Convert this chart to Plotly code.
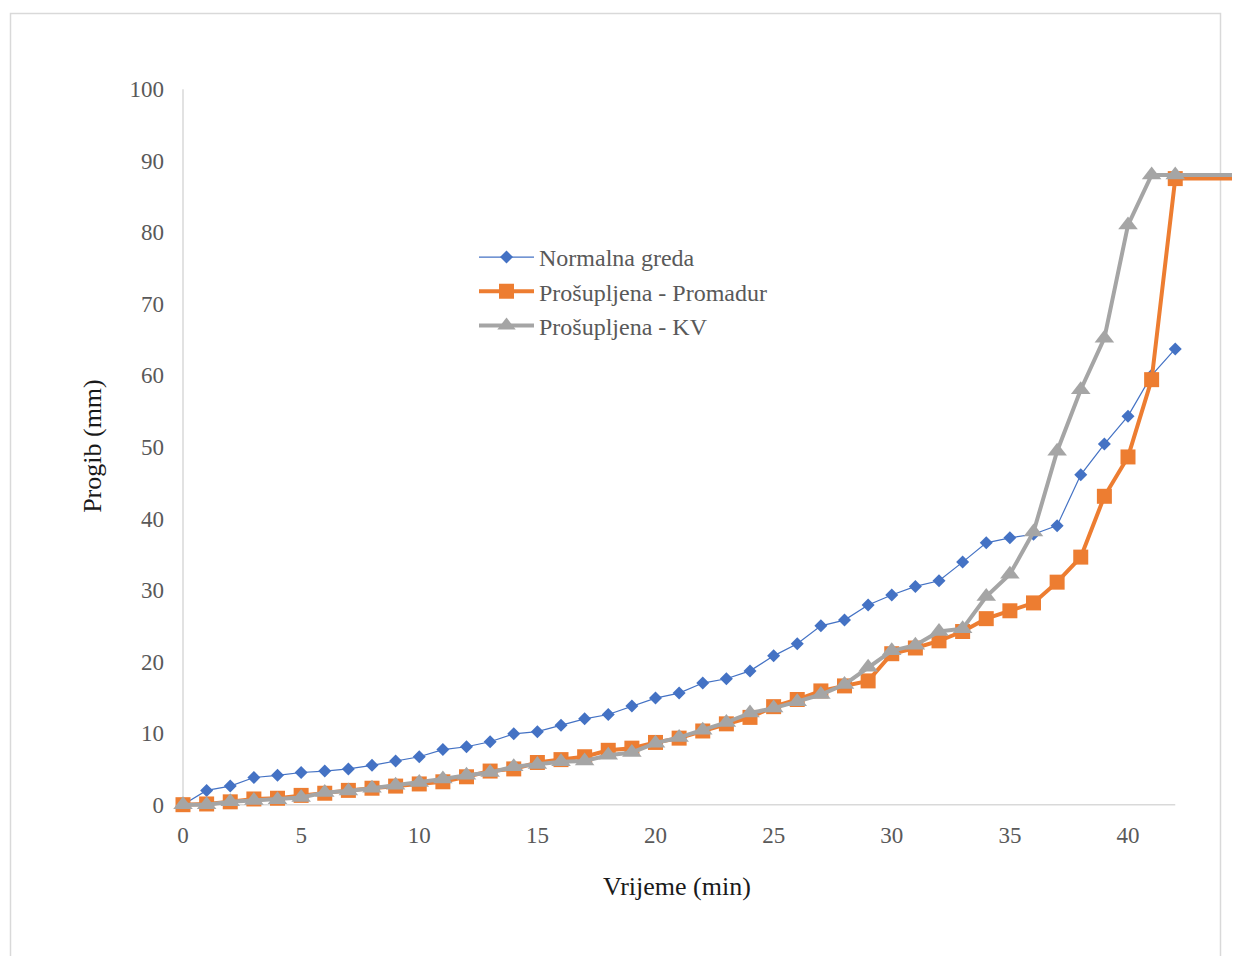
import plotly.graph_objects as go

# ---- data ----
time_min = list(range(43))
normalna_greda = [0, 2.0, 2.6, 3.8, 4.1, 4.5, 4.7, 5.0, 5.5, 6.1, 6.7, 7.7, 8.1, 8.8, 9.9, 10.2,
                  11.1, 12.0, 12.6, 13.8, 14.9, 15.6, 17.0, 17.6, 18.7, 20.8, 22.5, 25.0, 25.8,
                  27.9, 29.3, 30.5, 31.3, 33.9, 36.6, 37.3, 37.8, 39.0, 46.1, 50.4, 54.3, 60.0, 63.7]
promadur = [0, 0.1, 0.4, 0.8, 0.9, 1.3, 1.6, 2.0, 2.3, 2.6, 2.9, 3.2, 3.9, 4.7, 5.0, 5.9, 6.3,
            6.7, 7.6, 7.9, 8.7, 9.3, 10.3, 11.3, 12.2, 13.7, 14.7, 15.9, 16.6, 17.3, 21.1, 21.9,
            22.9, 24.2, 26.0, 27.1, 28.2, 31.1, 34.6, 43.1, 48.6, 59.4, 87.5]
kv = [0, 0, 0.4, 0.6, 0.7, 1.0, 1.7, 1.9, 2.3, 2.7, 3.1, 3.6, 4.1, 4.5, 5.3, 5.6, 6.0, 6.1,
      6.9, 7.3, 8.6, 9.4, 10.4, 11.5, 12.8, 13.5, 14.4, 15.4, 16.8, 19.2, 21.5, 22.3, 24.2,
      24.6, 29.1, 32.2, 38.1, 49.4, 58.0, 65.2, 81.0, 88.0, 88.0]
# plateau continues past the visible axis end
plateau_time = 48
x_ticks = [0, 5, 10, 15, 20, 25, 30, 35, 40]
y_ticks = [0, 10, 20, 30, 40, 50, 60, 70, 80, 90, 100]

# ---- layout geometry (page pixels; page body has an 8px margin) ----
OFF = 8
W, H = 1240 - OFF, 956 - OFF
PL = 171            # plot-area left edge in page px
PR = 1240           # plot-area right edge in page px
PT = 82             # plot-area top in page px
PB = 819.3          # plot-area bottom in page px
L = PL - OFF
R = (OFF + W) - PR
T = PT - OFF
B = (OFF + H) - PB
px_per_x = 23.625
x0 = (PL - 183) / px_per_x
x1 = x0 + (PR - PL) / px_per_x
y0, y1 = -2, 101

def paper_x(px):
    return (px - PL) / (PR - PL)

def paper_y(py):
    return (PB - py) / (PB - PT)

SERIF = "Liberation Serif, Times New Roman, serif"
BLUE, ORANGE, GRAY = "#4472C4", "#ED7D31", "#A5A5A5"
AXIS = "#D9D9D9"

fig = go.Figure()

fig.add_trace(go.Scatter(
    x=time_min, y=normalna_greda, name="Normalna greda", mode="lines+markers",
    line=dict(color=BLUE, width=1.2),
    marker=dict(symbol="diamond", size=10, color=BLUE),
    cliponaxis=False))

fig.add_trace(go.Scatter(
    x=[time_min[-1], plateau_time], y=[promadur[-1], promadur[-1]], mode="lines",
    line=dict(color=ORANGE, width=4), showlegend=False, hoverinfo="skip"))
fig.add_trace(go.Scatter(
    x=time_min, y=promadur, name="Prošupljena - Promadur", mode="lines+markers",
    line=dict(color=ORANGE, width=4),
    marker=dict(symbol="square", size=15, color=ORANGE),
    cliponaxis=False))

fig.add_trace(go.Scatter(
    x=[time_min[-1], plateau_time], y=[kv[-1], kv[-1]], mode="lines",
    line=dict(color=GRAY, width=4), showlegend=False, hoverinfo="skip"))
fig.add_trace(go.Scatter(
    x=time_min, y=kv, name="Prošupljena - KV", mode="lines+markers",
    line=dict(color=GRAY, width=4),
    marker=dict(symbol="triangle-up", size=17, color=GRAY),
    cliponaxis=False))

shapes = [
    # chart frame
    dict(type="rect", xref="paper", yref="paper",
         x0=paper_x(10.5), x1=paper_x(1220.5), y0=paper_y(13.5), y1=paper_y(1000),
         line=dict(color=AXIS, width=1.5), layer="below"),
    # value axis line
    dict(type="line", xref="x", yref="y", x0=0, x1=0, y0=y_ticks[0], y1=y_ticks[-1],
         line=dict(color=AXIS, width=1.5), layer="below"),
    # category axis line
    dict(type="line", xref="x", yref="y", x0=0, x1=time_min[-1], y0=0, y1=0,
         line=dict(color=AXIS, width=1.5), layer="below"),
]

annotations = [
    dict(text="Progib (mm)", xref="paper", yref="paper", x=paper_x(93), y=paper_y(446),
         xanchor="center", yanchor="middle", textangle=-90, showarrow=False,
         font=dict(family=SERIF, size=26, color="#1a1a1a")),
    dict(text="Vrijeme (min)", xref="paper", yref="paper", x=paper_x(677), y=paper_y(887),
         xanchor="center", yanchor="middle", showarrow=False,
         font=dict(family=SERIF, size=26, color="#1a1a1a")),
]

fig.update_layout(
    width=W, height=H,
    margin=dict(l=L, r=R, t=T, b=B, pad=0),
    paper_bgcolor="white", plot_bgcolor="white",
    showlegend=True,
    legend=dict(x=paper_x(474), y=paper_y(235), xanchor="left", yanchor="top",
                bgcolor="rgba(0,0,0,0)", itemwidth=55,
                font=dict(family=SERIF, size=24, color="#595959"),
                tracegroupgap=0),
    xaxis=dict(range=[x0, x1], tickvals=x_ticks, ticktext=[str(v) for v in x_ticks],
               showgrid=False, zeroline=False, showline=False, ticks="",
               tickfont=dict(family=SERIF, size=23, color="#595959")),
    yaxis=dict(range=[y0, y1], tickvals=y_ticks, ticktext=[str(v) for v in y_ticks],
               showgrid=False, zeroline=False, showline=False, ticks="",
               ticklabelstandoff=6,
               tickfont=dict(family=SERIF, size=23, color="#595959")),
    shapes=shapes,
    annotations=annotations,
)

fig.write_html("out.html")
